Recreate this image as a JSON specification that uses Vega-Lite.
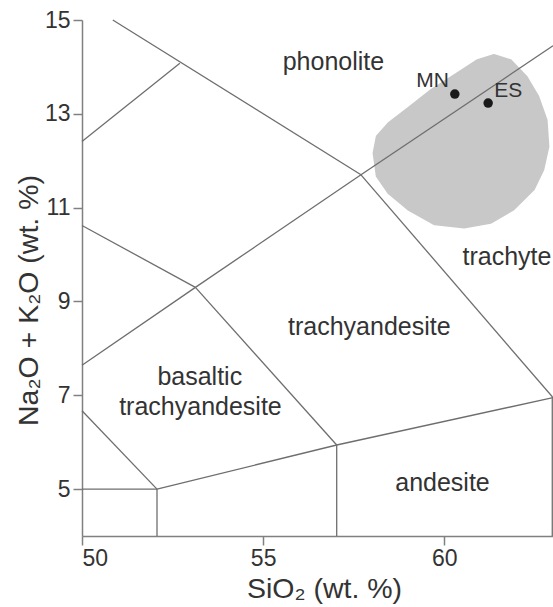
{
  "$schema": "https://vega.github.io/schema/vega-lite/v6.json",
  "width": 471,
  "height": 516,
  "autosize": {"type": "none"},
  "padding": {"left": 82, "top": 20, "right": 0, "bottom": 71},
  "background": "white",
  "config": {
    "view": {"stroke": null},
    "font": "Liberation Sans",
    "axis": {"grid": false, "domainColor": "#808080", "tickColor": "#808080", "domainWidth": 1.5, "tickWidth": 1.5, "labelColor": "#333333", "titleColor": "#333333", "labelFont": "Liberation Sans", "titleFont": "Liberation Sans", "titleFontWeight": "normal"}
  },
  "datasets": {
    "blob": [
      {"i": 1, "x": 61.37, "y": 14.26}, {"i": 2, "x": 61.83, "y": 14.15}, {"i": 3, "x": 62.28, "y": 13.79},
      {"i": 4, "x": 62.6, "y": 13.37}, {"i": 5, "x": 62.83, "y": 12.87}, {"i": 6, "x": 62.88, "y": 12.3},
      {"i": 7, "x": 62.74, "y": 11.81}, {"i": 8, "x": 62.47, "y": 11.38}, {"i": 9, "x": 61.92, "y": 10.96},
      {"i": 10, "x": 61.28, "y": 10.67}, {"i": 11, "x": 60.55, "y": 10.57}, {"i": 12, "x": 59.73, "y": 10.64},
      {"i": 13, "x": 58.99, "y": 10.96}, {"i": 14, "x": 58.45, "y": 11.31}, {"i": 15, "x": 58.13, "y": 11.67},
      {"i": 16, "x": 58.04, "y": 12.16}, {"i": 17, "x": 58.13, "y": 12.52}, {"i": 18, "x": 58.45, "y": 12.8},
      {"i": 19, "x": 58.99, "y": 13.12}, {"i": 20, "x": 59.63, "y": 13.51}, {"i": 21, "x": 60.36, "y": 13.87},
      {"i": 22, "x": 60.91, "y": 14.15}
    ],
    "segs": [
      {"x": 50.85, "y": 15, "x2": 57.7, "y2": 11.7},
      {"x": 50, "y": 12.41, "x2": 52.7, "y2": 14.08},
      {"x": 57.7, "y": 11.7, "x2": 63, "y2": 14.45},
      {"x": 57.7, "y": 11.7, "x2": 63, "y2": 6.95},
      {"x": 57.7, "y": 11.7, "x2": 53.13, "y2": 9.3},
      {"x": 50, "y": 10.62, "x2": 53.13, "y2": 9.3},
      {"x": 50, "y": 7.64, "x2": 53.13, "y2": 9.3},
      {"x": 53.13, "y": 9.3, "x2": 57.03, "y2": 5.94},
      {"x": 50, "y": 6.67, "x2": 52.07, "y2": 5},
      {"x": 50, "y": 5, "x2": 52.07, "y2": 5},
      {"x": 52.07, "y": 5, "x2": 52.07, "y2": 4},
      {"x": 52.07, "y": 5, "x2": 57.03, "y2": 5.94},
      {"x": 57.03, "y": 5.94, "x2": 63, "y2": 6.95},
      {"x": 57.03, "y": 5.94, "x2": 57.03, "y2": 4},
      {"x": 62.98, "y": 6.95, "x2": 62.98, "y2": 4}
    ],
    "pts": [
      {"name": "MN", "x": 60.29, "y": 13.42},
      {"name": "ES", "x": 61.21, "y": 13.23}
    ],
    "labels": [
      {"t": "phonolite", "x": 56.94, "y": 14.11},
      {"t": "trachyte", "x": 61.73, "y": 9.94},
      {"t": "trachyandesite", "x": 57.93, "y": 8.45},
      {"t": "basaltic", "x": 53.25, "y": 7.4},
      {"t": "trachyandesite", "x": 53.27, "y": 6.74},
      {"t": "andesite", "x": 59.95, "y": 5.14}
    ]
  },
  "layer": [
    {
      "data": {"name": "blob"},
      "mark": {"type": "line", "fill": "#c8c8c8", "stroke": "#c8c8c8", "strokeWidth": 1.5, "strokeJoin": "round", "interpolate": "linear-closed"},
      "encoding": {
        "x": {"field": "x", "type": "quantitative", "scale": {"domain": [50, 63], "nice": false, "zero": false},
          "axis": {"values": [50, 55, 60], "tickSize": 9, "labelFontSize": 23, "labelPadding": 2, "title": "SiO₂ (wt. %)", "titleFontSize": 28.5, "titleX": 242, "titleY": 61, "titleBaseline": "alphabetic", "titleAlign": "center"}},
        "y": {"field": "y", "type": "quantitative", "scale": {"domain": [4, 15], "nice": false, "zero": false},
          "axis": {"values": [5, 7, 9, 11, 13, 15], "tickSize": 9, "labelFontSize": 23, "labelPadding": 3, "title": "Na₂O + K₂O (wt. %)", "titleFontSize": 28.5, "titleX": -45, "titleY": 280, "titleBaseline": "alphabetic", "titleAlign": "center", "titleAngle": -90}},
        "order": {"field": "i", "type": "quantitative"}
      }
    },
    {
      "data": {"name": "segs"},
      "mark": {"type": "rule", "color": "#6e6e6e", "strokeWidth": 1.3},
      "encoding": {
        "x": {"field": "x", "type": "quantitative"},
        "y": {"field": "y", "type": "quantitative"},
        "x2": {"field": "x2"},
        "y2": {"field": "y2"}
      }
    },
    {
      "data": {"name": "pts"},
      "mark": {"type": "circle", "color": "#1a1a1a", "opacity": 1, "size": 90},
      "encoding": {
        "x": {"field": "x", "type": "quantitative"},
        "y": {"field": "y", "type": "quantitative"}
      }
    },
    {
      "data": {"name": "pts"},
      "transform": [{"filter": "datum.name == 'MN'"}],
      "mark": {"type": "text", "align": "right", "baseline": "middle", "dx": -6, "dy": -13, "fontSize": 21, "color": "#333333"},
      "encoding": {
        "x": {"field": "x", "type": "quantitative"},
        "y": {"field": "y", "type": "quantitative"},
        "text": {"field": "name"}
      }
    },
    {
      "data": {"name": "pts"},
      "transform": [{"filter": "datum.name == 'ES'"}],
      "mark": {"type": "text", "align": "left", "baseline": "middle", "dx": 6, "dy": -12, "fontSize": 21, "color": "#333333"},
      "encoding": {
        "x": {"field": "x", "type": "quantitative"},
        "y": {"field": "y", "type": "quantitative"},
        "text": {"field": "name"}
      }
    },
    {
      "data": {"name": "labels"},
      "mark": {"type": "text", "align": "center", "baseline": "middle", "fontSize": 25, "color": "#333333"},
      "encoding": {
        "x": {"field": "x", "type": "quantitative"},
        "y": {"field": "y", "type": "quantitative"},
        "text": {"field": "t"}
      }
    }
  ]
}
